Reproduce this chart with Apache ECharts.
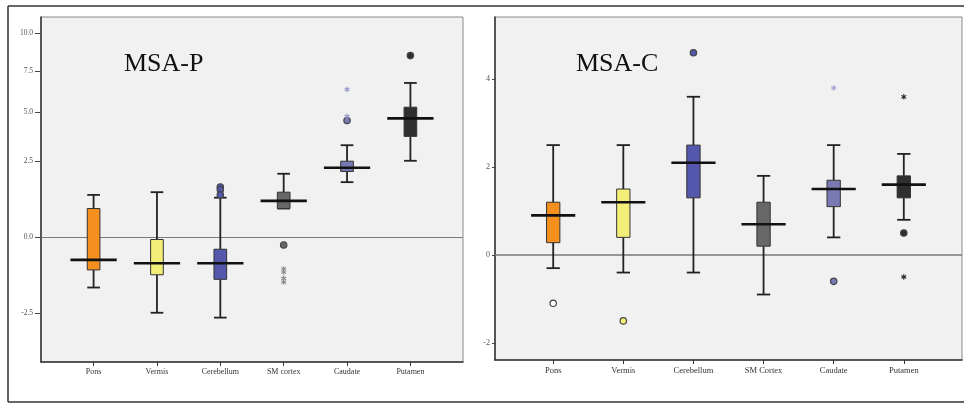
<!DOCTYPE html>
<html>
<head>
<meta charset="utf-8">
<script src="https://cdn.jsdelivr.net/npm/echarts@6/dist/echarts.min.js"></script>
<style>
    html, body { margin: 0; padding: 0; background: #fff; }
    #chart { width: 964px; height: 403px; }
</style>
</head>
<body>
<div id="chart"></div>
<script>
// categories
var catsP = ['Pons', 'Vermis', 'Cerebellum', 'SM cortex', 'Caudate', 'Putamen'];
var catsC = ['Pons', 'Vermis', 'Cerebellum', 'SM Cortex', 'Caudate', 'Putamen'];
var boxColors = ['#f5901e', '#f3ee78', '#5457ac', '#676767', '#7979b3', '#2f2f2f'];

// box values: [whisker low, Q1, median, Q3, whisker high]
var boxesP = [
    [-1.67, -1.09, -0.76, 0.62, 1.08],
    [-2.5, -1.25, -0.87, -0.09, 1.18],
    [-2.66, -1.40, -0.87, -0.41, 0.98],
    [0.62, 0.62, 0.87, 1.18, 1.92],
    [1.57, 2.02, 2.18, 2.48, 3.25],
    [2.5, 3.7, 4.67, 5.3, 6.75]
];
var boxesC = [
    [-0.3, 0.28, 0.9, 1.2, 2.5],
    [-0.4, 0.4, 1.2, 1.5, 2.5],
    [-0.4, 1.3, 2.1, 2.5, 3.6],
    [-0.9, 0.2, 0.7, 1.2, 1.8],
    [0.4, 1.1, 1.5, 1.7, 2.5],
    [0.8, 1.3, 1.6, 1.8, 2.3]
];

// outliers: [category index, value, kind]  o = circle, w = open circle, s = star
var outliersP = [
    [2, 1.38, 'o'], [2, 1.28, 'o'], [2, 1.08, 'o'],
    [3, -0.27, 'o'], [3, -1.06, 's'], [3, -1.16, 's'], [3, -1.37, 's'], [3, -1.49, 's'],
    [4, 4.55, 'o'], [4, 4.78, 's'], [4, 6.35, 's'],
    [5, 8.5, 'o']
];
var outliersC = [
    [0, -1.1, 'w'],
    [1, -1.5, 'o'],
    [2, 4.6, 'o'],
    [4, 3.8, 's'], [4, -0.6, 'o'],
    [5, 3.6, 's'], [5, 0.5, 'o'], [5, -0.5, 's']
];
var starColorsP = ['#888', '#888', '#888', '#8a8a8a', '#9494cc', '#333'];
var starColorsC = ['#888', '#888', '#888', '#888', '#a0a0d4', '#222'];

// tick labels
var ticksP = [-2.5, 0, 2.5, 5, 7.5, 10];
var ticksC = [-2, 0, 2, 4];

// the MSA-P axis is compressed above zero
var warpPow = 0.71;
function warpP(v) { return v >= 0 ? 2.5 * Math.pow(v / 2.5, warpPow) : v; }
function unwarpP(u) { return u >= 0 ? 2.5 * Math.pow(u / 2.5, 1 / warpPow) : u; }

var catIdx = [0, 1, 2, 3, 4, 5];

function boxRenderer(boxW, medW) {
    return function (params, api) {
        var x = api.value(0);
        var unit = api.size([1, 0])[0];
        var cx = api.coord([x, 0])[0];
        var lo = api.coord([x, api.value(1)])[1];
        var q1 = api.coord([x, api.value(2)])[1];
        var md = api.coord([x, api.value(3)])[1];
        var q3 = api.coord([x, api.value(4)])[1];
        var hi = api.coord([x, api.value(5)])[1];
        var bw = unit * boxW, mw = unit * medW;
        var ls = { stroke: '#222', lineWidth: 1.8 };
        return {
            type: 'group',
            children: [
                { type: 'line', shape: { x1: cx, y1: hi, x2: cx, y2: q3 }, style: ls },
                { type: 'line', shape: { x1: cx, y1: q1, x2: cx, y2: lo }, style: ls },
                { type: 'line', shape: { x1: cx - bw / 2, y1: hi, x2: cx + bw / 2, y2: hi }, style: ls },
                { type: 'line', shape: { x1: cx - bw / 2, y1: lo, x2: cx + bw / 2, y2: lo }, style: ls },
                {
                    type: 'rect',
                    shape: { x: cx - bw / 2, y: q3, width: bw, height: q1 - q3 },
                    style: { fill: boxColors[params.dataIndex], stroke: '#333', lineWidth: 1 }
                },
                { type: 'line', shape: { x1: cx - mw / 2, y1: md, x2: cx + mw / 2, y2: md }, style: { stroke: '#111', lineWidth: 2.6 } }
            ]
        };
    };
}

function outlierRenderer(list, starColors) {
    return function (params, api) {
        var item = list[params.dataIndex];
        var p = api.coord([api.value(0), api.value(1)]);
        if (item[2] === 's') {
            var r = 2.8, col = starColors[item[0]];
            var kids = [];
            for (var k = 0; k < 3; k++) {
                var a = Math.PI / 2 + k * Math.PI / 3;
                kids.push({
                    type: 'line',
                    shape: { x1: p[0] - r * Math.cos(a), y1: p[1] - r * Math.sin(a), x2: p[0] + r * Math.cos(a), y2: p[1] + r * Math.sin(a) },
                    style: { stroke: col, lineWidth: 1.1 }
                });
            }
            return { type: 'group', children: kids };
        }
        return {
            type: 'circle',
            shape: { cx: p[0], cy: p[1], r: 3.2 },
            style: { fill: item[2] === 'w' ? '#fff' : boxColors[item[0]], stroke: '#444', lineWidth: 1.2 }
        };
    };
}

var labelFont = { fontFamily: 'Liberation Serif', color: '#333' };

var option = {
    animation: false,
    backgroundColor: '#fff',
    grid: [
        { left: 41, top: 17, right: 501, bottom: 41, show: true, backgroundColor: '#f1f1f1', borderColor: '#8a8a8a', borderWidth: 1 },
        { left: 495, top: 17, right: 2, bottom: 43, show: true, backgroundColor: '#f1f1f1', borderColor: '#8a8a8a', borderWidth: 1 }
    ],
    xAxis: [
        {
            type: 'value', gridIndex: 0, min: -0.83, max: 5.83,
            splitLine: { show: false },
            axisLine: { show: true, onZero: false, lineStyle: { color: '#333', width: 1.5 } },
            axisTick: { show: true, customValues: catIdx, length: 4, lineStyle: { color: '#333' } },
            axisLabel: Object.assign({ customValues: catIdx, fontSize: 8, margin: 6, formatter: function (v) { return catsP[Math.round(v)]; } }, labelFont)
        },
        {
            type: 'value', gridIndex: 1, min: -0.83, max: 5.83,
            splitLine: { show: false },
            axisLine: { show: true, onZero: false, lineStyle: { color: '#333', width: 1.5 } },
            axisTick: { show: true, customValues: catIdx, length: 4, lineStyle: { color: '#333' } },
            axisLabel: Object.assign({ customValues: catIdx, fontSize: 8.5, margin: 6, formatter: function (v) { return catsC[Math.round(v)]; } }, labelFont)
        }
    ],
    yAxis: [
        {
            type: 'value', gridIndex: 0, min: -4.12, max: 7.23,
            splitLine: { show: false },
            axisLine: { show: true, onZero: false, lineStyle: { color: '#333', width: 1.5 } },
            axisTick: { show: true, customValues: ticksP.map(warpP), length: 6, lineStyle: { color: '#444' } },
            axisLabel: {
                customValues: ticksP.map(warpP), fontSize: 7.5, margin: 8, color: '#555', fontFamily: 'Liberation Serif',
                formatter: function (v) { return unwarpP(v).toFixed(1); }
            }
        },
        {
            type: 'value', gridIndex: 1, min: -2.39, max: 5.415,
            splitLine: { show: false },
            axisLine: { show: true, onZero: false, lineStyle: { color: '#333', width: 1.5 } },
            axisTick: { show: true, customValues: ticksC, length: 3, lineStyle: { color: '#444' } },
            axisLabel: {
                customValues: ticksC, fontSize: 8, margin: 5, color: '#555', fontFamily: 'Liberation Serif',
                formatter: function (v) { return String(Math.round(v)); }
            }
        }
    ],
    series: [
        {
            type: 'custom', xAxisIndex: 0, yAxisIndex: 0, z: 3,
            renderItem: boxRenderer(0.2, 0.73),
            data: boxesP.map(function (b, i) { return [i].concat(b.map(warpP)); }),
            markLine: {
                silent: true, z: 1, symbol: 'none', label: { show: false },
                lineStyle: { color: '#7a7a7a', width: 1, type: 'solid' },
                data: [{ yAxis: 0 }]
            }
        },
        {
            type: 'custom', xAxisIndex: 0, yAxisIndex: 0, z: 4,
            renderItem: outlierRenderer(outliersP, starColorsP),
            data: outliersP.map(function (o) { return [o[0], warpP(o[1])]; })
        },
        {
            type: 'custom', xAxisIndex: 1, yAxisIndex: 1, z: 3,
            renderItem: boxRenderer(0.19, 0.63),
            data: boxesC.map(function (b, i) { return [i].concat(b); }),
            markLine: {
                silent: true, z: 1, symbol: 'none', label: { show: false },
                lineStyle: { color: '#777', width: 1.5, type: 'solid' },
                data: [{ yAxis: 0 }]
            }
        },
        {
            type: 'custom', xAxisIndex: 1, yAxisIndex: 1, z: 4,
            renderItem: outlierRenderer(outliersC, starColorsC),
            data: outliersC.map(function (o) { return [o[0], o[1]]; })
        }
    ],
    graphic: [
        { type: 'line', shape: { x1: 8, y1: 6, x2: 964, y2: 6 }, style: { stroke: '#333', lineWidth: 1.5 } },
        { type: 'line', shape: { x1: 8, y1: 6, x2: 8, y2: 402 }, style: { stroke: '#333', lineWidth: 1.5 } },
        { type: 'line', shape: { x1: 8, y1: 402, x2: 964, y2: 402 }, style: { stroke: '#333', lineWidth: 1.5 } },
        { type: 'text', x: 124, y: 64, z: 10, style: { text: 'MSA-P', font: '26px "Liberation Serif"', fill: '#111', verticalAlign: 'middle' } },
        { type: 'text', x: 576, y: 64, z: 10, style: { text: 'MSA-C', font: '26px "Liberation Serif"', fill: '#111', verticalAlign: 'middle' } }
    ]
};

var myChart = echarts.init(document.getElementById('chart'));
myChart.setOption(option);
</script>
</body>
</html>
